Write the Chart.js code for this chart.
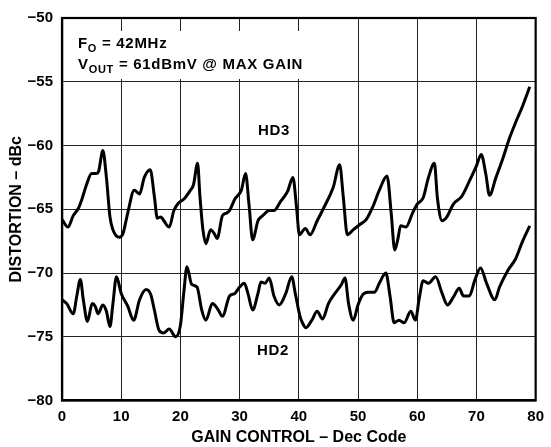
<!DOCTYPE html>
<html>
<head>
<meta charset="utf-8">
<script src="https://cdn.jsdelivr.net/npm/chart.js@4/dist/chart.umd.min.js"></script>
<style>
  html, body { margin: 0; padding: 0; background: #fff; }
  canvas { display: block; }
</style>
</head>
<body>
<canvas id="distChart" width="551" height="447"></canvas>
<script>
const xTicks = [0, 10, 20, 30, 40, 50, 60, 70, 80];
const yTicks = [-50, -55, -60, -65, -70, -75, -80];

// HD3 trace (gain code, dBc)
const hd3Code = [0, 1, 1.9, 2.8, 3.3, 4.2, 5, 5.8, 6.2, 6.9, 7.5, 8.1, 8.6, 9.7, 10.3, 11.1, 12.2, 13.1, 13.9, 14.9,
  15.6, 16.1, 16.7, 17.2, 18.1, 18.9, 19.7, 20.6, 21.7, 22.2, 22.9, 23.3, 23.8, 24.3, 25.1, 25.7, 26.2, 27.1, 27.8, 28.3,
  29.2, 30.3, 31, 31.6, 32.2, 33.1, 33.9, 35, 35.8, 36.9, 38.1, 39, 39.6, 40.1, 41.1, 41.9, 43.1, 44.2, 45.8, 46.9,
  47.5, 48.2, 49.2, 50.3, 51.4, 52.5, 53.6, 54.9, 55.6, 56.2, 56.7, 57.2, 58.1, 59.2, 60, 61, 61.9, 62.9, 63.4, 64.2,
  65, 66.1, 67.5, 68.9, 70, 70.8, 71.6, 72.2, 73.3, 74.4, 75.6, 76.7, 77.8, 79];
const hd3Val = [-65.8, -66.4, -65.5, -64.9, -64.3, -63.0, -62.2, -62.2, -62.0, -60.4, -62.5, -65.6, -66.6, -67.2, -66.9, -65.3, -63.5, -63.8, -62.5, -61.9,
  -64.0, -65.7, -65.6, -65.9, -66.4, -65.1, -64.5, -64.2, -63.5, -63.1, -61.4, -64.0, -66.6, -67.7, -66.6, -66.9, -67.3, -65.5, -65.3, -65.1,
  -64.2, -63.5, -62.2, -64.7, -67.4, -65.9, -65.5, -65.1, -65.1, -64.4, -63.6, -62.5, -64.8, -67.0, -66.5, -67.0, -65.9, -64.9, -63.3, -61.5,
  -64.0, -67.0, -66.6, -66.2, -65.8, -64.8, -63.5, -62.4, -65.3, -68.2, -67.4, -66.3, -66.4, -65.3, -64.6, -64.1, -62.5, -61.4, -64.1, -65.9,
  -65.6, -64.6, -64.0, -62.7, -61.6, -60.7, -62.3, -63.9, -62.5, -61.1, -59.4, -58.1, -56.9, -55.4];

// HD2 trace (gain code, dBc)
const hd2Code = [0, 0.8, 1.9, 2.5, 3.1, 3.6, 4.3, 5.1, 5.6, 6.1, 6.9, 7.5, 8.1, 8.6, 9.2, 10, 11.1, 12.1, 13.1, 14.2,
  15, 15.6, 16.4, 17.2, 18.1, 19.2, 20, 20.6, 21.1, 21.9, 22.8, 23.6, 24.3, 25.4, 26.4, 27.1, 28.3, 29.2, 30, 30.8,
  31.4, 32.2, 33.1, 33.6, 34.3, 35, 35.8, 36.7, 37.8, 38.8, 39.4, 40.2, 40.6, 41.2, 42.2, 43.1, 44, 45, 46.1, 47.2,
  47.8, 48.4, 49.2, 50, 50.8, 51.7, 52.8, 53.6, 54.7, 55.4, 56.1, 56.9, 57.8, 58.9, 59.7, 60.3, 61, 61.9, 63.1, 64.2,
  65.1, 66.1, 67.1, 67.8, 68.8, 69.7, 70.7, 71.7, 73.1, 73.9, 75.3, 76.6, 77.8, 79];
const hd2Val = [-72.1, -72.4, -73.2, -71.8, -70.5, -72.1, -73.8, -72.4, -72.6, -73.2, -72.5, -73.0, -74.2, -72.4, -70.3, -71.6, -72.6, -73.7, -72.1, -71.3,
  -71.7, -72.9, -74.5, -74.7, -74.4, -75.0, -74.1, -71.4, -69.5, -70.9, -71.1, -72.9, -73.7, -72.4, -72.9, -73.4, -71.8, -71.6, -71.1, -70.8,
  -71.6, -72.9, -71.6, -70.7, -70.8, -70.4, -71.8, -72.5, -71.6, -70.3, -71.6, -73.4, -73.9, -74.3, -73.7, -73.0, -73.6, -72.4, -71.6, -70.9,
  -70.4, -72.4, -73.7, -72.5, -71.7, -71.5, -71.5, -70.8, -70.0, -71.8, -73.9, -73.7, -73.9, -73.0, -73.7, -72.1, -70.6, -70.8, -70.3, -71.6,
  -72.5, -71.9, -71.2, -71.8, -71.8, -70.6, -69.6, -70.8, -72.1, -71.1, -69.8, -68.9, -67.5, -66.3];

const toPoints = (xs, ys) => xs.map((x, i) => ({ x: x, y: ys[i] }));

const FONT = "'Liberation Sans', Arial, Helvetica, sans-serif";

// white box behind the conditions text, then the text itself
const annotations = {
  id: "annotations",
  beforeDatasetsDraw(chart) {
    const c = chart.ctx;
    c.save();
    c.fillStyle = "#fff";
    c.fillRect(70, 31, 236, 48);
    c.restore();
  },
  afterDatasetsDraw(chart) {
    const c = chart.ctx;
    const a = chart.chartArea;
    c.save();
    c.strokeStyle = "#000";
    c.lineWidth = 2.2;
    c.strokeRect(a.left, a.top, a.right - a.left, a.bottom - a.top);

    c.fillStyle = "#000";
    c.textBaseline = "alphabetic";
    c.letterSpacing = "0.7px";
    const big = "bold 15px " + FONT;
    const small = "bold 11px " + FONT;
    let x = 78;
    c.font = big; c.fillText("F", x, 48); x += c.measureText("F").width;
    c.font = small; c.fillText("O", x, 52); x += c.measureText("O").width;
    c.font = big; c.fillText(" = 42MHz", x, 48);

    x = 78;
    c.font = big; c.fillText("V", x, 68.5); x += c.measureText("V").width;
    c.font = small; c.fillText("OUT", x, 73); x += c.measureText("OUT").width;
    c.font = big; c.fillText(" = 61dBmV @ MAX GAIN", x, 68.5);

    c.fillText("HD3", 258, 135);
    c.fillText("HD2", 257, 355);
    c.restore();
  }
};

const lineStyle = {
  borderColor: "#000",
  borderWidth: 3,
  pointRadius: 0,
  fill: false,
  cubicInterpolationMode: "monotone",
};

new Chart(document.getElementById("distChart"), {
  type: "line",
  data: {
    datasets: [
      Object.assign({ label: "HD3", data: toPoints(hd3Code, hd3Val) }, lineStyle),
      Object.assign({ label: "HD2", data: toPoints(hd2Code, hd2Val) }, lineStyle),
    ],
  },
  options: {
    responsive: false,
    animation: false,
    layout: { padding: { top: 16.5, right: 9.5, left: 0, bottom: 0 } },
    plugins: { legend: { display: false }, tooltip: { enabled: false } },
    scales: {
      x: {
        type: "linear",
        min: 0,
        max: 80,
        afterBuildTicks: (s) => { s.ticks = xTicks.map((v) => ({ value: v })); },
        afterFit: (s) => { s.height = 46.5; },
        grid: { color: "#222", lineWidth: 1, drawTicks: false },
        border: { color: "#000", width: 2.2 },
        ticks: {
          color: "#000",
          padding: 7,
          font: { family: FONT, size: 15, weight: "bold" },
        },
        title: {
          display: true,
          text: "GAIN CONTROL – Dec Code",
          color: "#000",
          padding: { top: 4, bottom: 0 },
          font: { family: FONT, size: 16, weight: "bold" },
        },
      },
      y: {
        type: "linear",
        min: -80,
        max: -50,
        afterBuildTicks: (s) => { s.ticks = yTicks.map((v) => ({ value: v })); },
        afterFit: (s) => { s.width = 62; },
        grid: { color: "#222", lineWidth: 1, drawTicks: false },
        border: { color: "#000", width: 2.2 },
        ticks: {
          color: "#000",
          padding: 9,
          font: { family: FONT, size: 15, weight: "bold" },
          callback: (v) => (v < 0 ? "\u2212" + Math.abs(v) : String(v)),
        },
        title: {
          display: true,
          text: "DISTORTION – dBc",
          color: "#000",
          padding: { top: 7, bottom: 0 },
          font: { family: FONT, size: 16, weight: "bold" },
        },
      },
    },
  },
  plugins: [annotations],
});
</script>
</body>
</html>
